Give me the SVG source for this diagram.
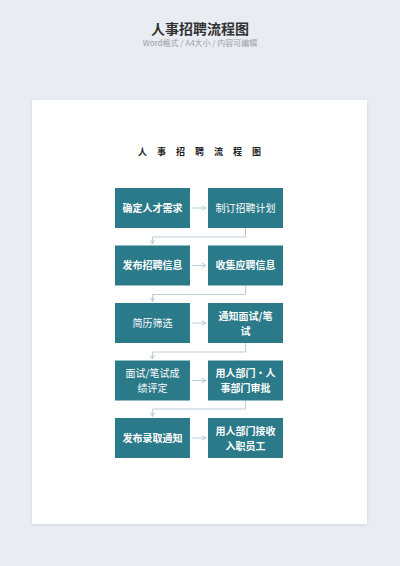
<svg xmlns="http://www.w3.org/2000/svg" width="400" height="566" viewBox="0 0 400 566">
<defs>
<style>
.bg{fill:#e9ecf2}
.page{fill:#ffffff}
.box{fill:#2b7a8a}
.t{font-family:"Noto Sans CJK SC","Liberation Sans",sans-serif;font-size:10px;fill:#ffffff;text-anchor:middle}
.b{font-weight:bold}
.c{fill:none;stroke:#b9cdd8;stroke-width:1}
</style>
<marker id="ah" viewBox="0 0 6 6" refX="5" refY="3" markerWidth="6" markerHeight="6" markerUnits="userSpaceOnUse" orient="auto">
<polyline points="1,0.8 5,3 1,5.2" fill="none" stroke="#b9cdd8" stroke-width="1"/>
</marker>
<filter id="sh" x="-5%" y="-5%" width="110%" height="110%">
<feDropShadow dx="0" dy="1" stdDeviation="1.5" flood-color="#9aa4b5" flood-opacity="0.35"/>
</filter>
</defs>
<rect class="bg" x="0" y="0" width="400" height="566"/>
<text x="200" y="34" text-anchor="middle" font-family="Noto Sans CJK SC,sans-serif" font-size="14" font-weight="bold" fill="#333333">人事招聘流程图</text>
<text x="200" y="45.5" text-anchor="middle" font-family="Noto Sans CJK SC,sans-serif" font-size="8" fill="#9a9ea6">Word格式 / A4大小 / 内容可编辑</text>
<rect class="page" x="32" y="100" width="335" height="424" filter="url(#sh)"/>
<text x="138" y="155" font-family="Noto Sans CJK SC,sans-serif" font-size="9" font-weight="bold" fill="#222222" letter-spacing="10">人事招聘流程图</text>

<g id="connectors">
<line class="c" x1="192" y1="208" x2="206" y2="208" marker-end="url(#ah)"/>
<line class="c" x1="192" y1="265.5" x2="206" y2="265.5" marker-end="url(#ah)"/>
<line class="c" x1="192" y1="323" x2="206" y2="323" marker-end="url(#ah)"/>
<line class="c" x1="192" y1="380.5" x2="206" y2="380.5" marker-end="url(#ah)"/>
<line class="c" x1="192" y1="438" x2="206" y2="438" marker-end="url(#ah)"/>
<polyline class="c" points="245.5,228 245.5,237 152.5,237 152.5,244" marker-end="url(#ah)"/>
<polyline class="c" points="245.5,285.5 245.5,294.5 152.5,294.5 152.5,301.5" marker-end="url(#ah)"/>
<polyline class="c" points="245.5,343 245.5,352 152.5,352 152.5,359" marker-end="url(#ah)"/>
<polyline class="c" points="245.5,400.5 245.5,409 152.5,409 152.5,416.5" marker-end="url(#ah)"/>
</g>

<g id="n1"><rect class="box" x="115" y="188" width="75" height="40"/><text class="t b" x="152.5" y="211.5">确定人才需求</text></g>
<g id="n2"><rect class="box" x="208" y="188" width="75" height="40"/><text class="t" x="245.5" y="211.5">制订招聘计划</text></g>
<g id="n3"><rect class="box" x="115" y="245.5" width="75" height="40"/><text class="t b" x="152.5" y="269">发布招聘信息</text></g>
<g id="n4"><rect class="box" x="208" y="245.5" width="75" height="40"/><text class="t b" x="245.5" y="269">收集应聘信息</text></g>
<g id="n5"><rect class="box" x="115" y="303" width="75" height="40"/><text class="t" x="152.5" y="326.5">简历筛选</text></g>
<g id="n6"><rect class="box" x="208" y="303" width="75" height="40"/><text class="t b" x="245.5" y="319.5">通知面试/笔</text><text class="t b" x="245.5" y="334.5">试</text></g>
<g id="n7"><rect class="box" x="115" y="360.5" width="75" height="40"/><text class="t" x="152.5" y="377">面试/笔试成</text><text class="t" x="152.5" y="392">绩评定</text></g>
<g id="n8"><rect class="box" x="208" y="360.5" width="75" height="40"/><text class="t b" x="245.5" y="377">用人部门・人</text><text class="t b" x="245.5" y="392">事部门审批</text></g>
<g id="n9"><rect class="box" x="115" y="418" width="75" height="40"/><text class="t b" x="152.5" y="441.5">发布录取通知</text></g>
<g id="n10"><rect class="box" x="208" y="418" width="75" height="40"/><text class="t b" x="245.5" y="434.5">用人部门接收</text><text class="t b" x="245.5" y="449.5">入职员工</text></g>
</svg>
